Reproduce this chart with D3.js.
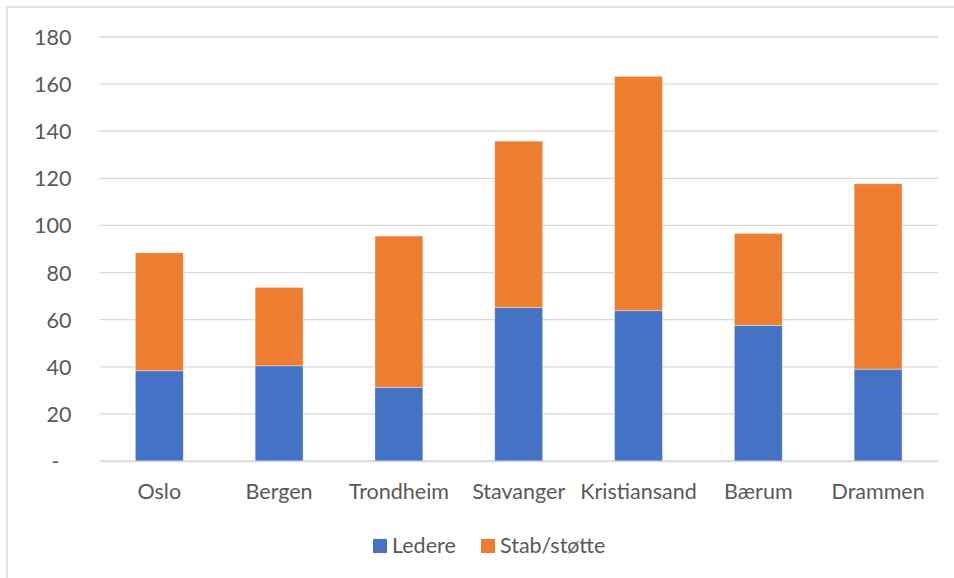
<!DOCTYPE html>
<meta charset="utf-8">
<style>
  body { margin: 0; background: #fff; }
  text { font-family: Lato, "Open Sans", sans-serif; fill: #595959; }
</style>

<!-- Load d3.js -->
<script src="https://d3js.org/d3.v7.min.js"></script>

<div id="chart"></div>

<script>

    // data
    var cities = ["Oslo", "Bergen", "Trondheim", "Stavanger", "Kristiansand", "Bærum", "Drammen"];
    var ledere = [38.3, 40.4, 31.3, 65.1, 63.8, 57.6, 39.0];
    var stab   = [50.1, 33.3, 64.2, 70.7, 99.5, 39.0, 78.7];
    var yTicks = [0, 20, 40, 60, 80, 100, 120, 140, 160, 180];
    var seriesNames = ["Ledere", "Stab/støtte"];
    var colors = ["#4472C4", "#ED7D31"];

    var W = 954, H = 578;
    var margin = {top: 37, right: 16, bottom: 117, left: 99.4},
        width = W - margin.left - margin.right,
        height = H - margin.top - margin.bottom;
    var fontSize = "21.5px";

    var root = d3.select("#chart")
      .append("svg")
        .attr("width", W)
        .attr("height", H);

    // chart border (only top and left visible in the original)
    root.append("rect")
        .attr("x", 7).attr("y", 7)
        .attr("width", W + 20).attr("height", H + 20)
        .attr("fill", "none")
        .attr("stroke", "#d9d9d9")
        .attr("stroke-width", 1.5);

    var svg = root.append("g")
        .attr("transform", "translate(" + margin.left + "," + margin.top + ")");

    var x = d3.scaleBand()
        .domain(cities)
        .range([0, width])
        .paddingInner(0.6)
        .paddingOuter(0.3);

    var y = d3.scaleLinear()
        .domain([0, 180])
        .range([height, 0]);

    // gridlines
    svg.append("g")
      .selectAll("line")
      .data(yTicks)
      .enter()
      .append("line")
        .attr("x1", 0)
        .attr("x2", width)
        .attr("y1", function(d) { return y(d); })
        .attr("y2", function(d) { return y(d); })
        .attr("stroke", "#d9d9d9")
        .attr("stroke-width", 1.3);

    // Y axis labels
    var yAxis = svg.append("g")
        .call(d3.axisLeft(y).tickValues(yTicks).tickSize(0).tickPadding(28)
              .tickFormat(function(d) { return d === 0 ? "-" : d; }));
    yAxis.select(".domain").remove();
    yAxis.selectAll("text")
        .style("font-size", fontSize)
        .attr("font-family", null)
        .attr("dy", "0.35em");
    yAxis.selectAll(".tick text")
        .filter(function(d) { return d === 0; })
        .attr("x", -40);

    // stacked bars
    var rows = cities.map(function(c, i) {
        return {city: c, "Ledere": ledere[i], "Stab/støtte": stab[i]};
    });
    var stacked = d3.stack().keys(seriesNames)(rows);

    svg.append("g")
      .selectAll("g")
      .data(stacked)
      .enter()
      .append("g")
        .attr("fill", function(d, i) { return colors[i]; })
      .selectAll("rect")
      .data(function(d) { return d; })
      .enter()
      .append("rect")
        .attr("x", function(d) { return x(d.data.city); })
        .attr("y", function(d) { return y(d[1]); })
        .attr("width", x.bandwidth())
        .attr("height", function(d) { return y(d[0]) - y(d[1]); })
        .attr("stroke", "#fff")
        .attr("stroke-opacity", 0.5)
        .attr("stroke-width", 0.75);

    // X axis
    var xAxis = svg.append("g")
        .attr("transform", "translate(0," + height + ")")
        .call(d3.axisBottom(x).tickSize(0));
    xAxis.select(".domain")
        .attr("stroke", "#d9d9d9")
        .attr("stroke-width", 1.3);
    xAxis.selectAll("text")
        .style("font-size", fontSize)
        .attr("font-family", null)
        .attr("y", 38)
        .attr("dy", 0);

    // legend
    var legend = root.append("g");
    var legX = [373, 481];
    seriesNames.forEach(function(name, i) {
        legend.append("rect")
            .attr("x", legX[i]).attr("y", 539)
            .attr("width", 14).attr("height", 14)
            .attr("fill", colors[i]);
        legend.append("text")
            .attr("x", legX[i] + 19).attr("y", 553)
            .style("font-size", fontSize)
            .text(name);
    });

</script>
